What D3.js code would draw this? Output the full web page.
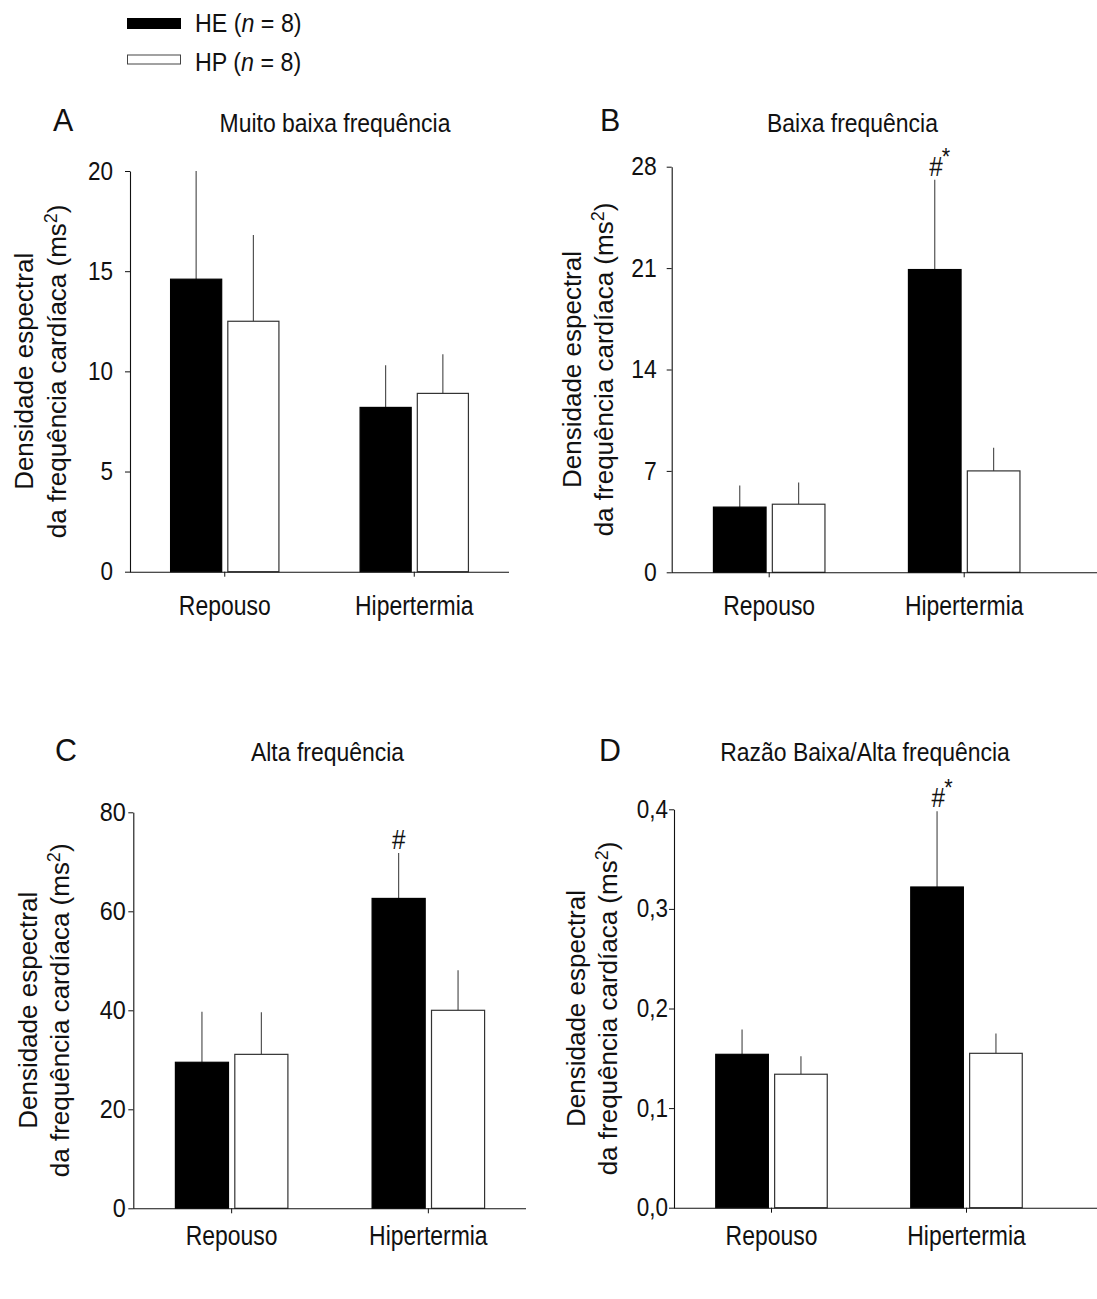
<!DOCTYPE html>
<html>
<head>
<meta charset="utf-8">
<script src="https://cdn.jsdelivr.net/npm/d3@7"></script>
<style>
  html, body { margin: 0; padding: 0; background: #fff; }
  svg { display: block; font-family: "Liberation Sans", Arial, sans-serif; }
</style>
</head>
<body>
<svg id="chart" width="1097" height="1299"></svg>
<script>
// Grupos e condições
const categories = ["Repouso", "Hipertermia"];
const series = ["HE", "HP"];
const seriesN = [8, 8];

// A — Muito baixa frequência (média e erro-padrão)
const vlfHE = [14.6, 8.2];
const vlfHEerr = [5.4, 2.1];
const vlfHP = [12.5, 8.9];
const vlfHPerr = [4.3, 1.95];
const vlfTicks = [0, 5, 10, 15, 20];

// B — Baixa frequência
const lfHE = [4.5, 20.9];
const lfHEerr = [1.5, 6.2];
const lfHP = [4.7, 7.0];
const lfHPerr = [1.5, 1.6];
const lfTicks = [0, 7, 14, 21, 28];
const lfMarks = ["", "#*"];

// C — Alta frequência
const hfHE = [29.5, 62.6];
const hfHEerr = [10.2, 9.2];
const hfHP = [31.1, 40.0];
const hfHPerr = [8.5, 8.1];
const hfTicks = [0, 20, 40, 60, 80];
const hfMarks = ["", "#"];

// D — Razão baixa/alta frequência
const ratioHE = [0.154, 0.322];
const ratioHEerr = [0.025, 0.076];
const ratioHP = [0.134, 0.155];
const ratioHPerr = [0.018, 0.020];
const ratioTicks = [0, 0.1, 0.2, 0.3, 0.4];
const ratioMarks = ["", "#*"];

const titles = ["Muito baixa frequência", "Baixa frequência", "Alta frequência", "Razão Baixa/Alta frequência"];
const letters = ["A", "B", "C", "D"];
const yLabelLines = ["Densidade espectral", "da frequência cardíaca (ms"];

const fills = { HE: "#000", HP: "#fff" };
const strokes = { HE: "#000", HP: "#333" };

const svg = d3.select("#chart");

// condensed text helper
function ctext(parent, x, y, str, size, sx, anchor) {
  const g = parent.append("g").attr("transform", `translate(${x},${y})`);
  const t = g.append("text")
    .attr("transform", `scale(${sx},1)`)
    .attr("text-anchor", anchor || "middle")
    .attr("font-size", size)
    .attr("fill", "#111")
    .text(str);
  return t;
}

// Legend
const legend = svg.append("g");
series.forEach((s, i) => {
  const yy = [18.5, 55][i];
  legend.append("rect")
    .attr("x", 127.5).attr("y", yy)
    .attr("width", 53).attr("height", i === 0 ? 10 : 9)
    .attr("fill", fills[s]).attr("stroke", i === 0 ? "#000" : "#444").attr("stroke-width", 1);
  const g = legend.append("g").attr("transform", `translate(195,${[31.5, 70.5][i]})`);
  const t = g.append("text").attr("transform", "scale(0.93,1)").attr("font-size", 25).attr("fill", "#111");
  t.append("tspan").text(`${s} (`);
  t.append("tspan").attr("font-style", "italic").text("n");
  t.append("tspan").text(` = ${seriesN[i]})`);
});

const panels = [
  { he: vlfHE, heErr: vlfHEerr, hp: vlfHP, hpErr: vlfHPerr, ticks: vlfTicks, marks: ["", ""],
    fmt: d3.format("d"), x0: 130, axisEnd: 509, step: 189.5, yTop: 171, yBot: 571.7,
    tickPad: 17, tickSize: 25, lab1: -97, lab2: -64, title: [335, 131.5], letter: [53, 131], catY: 615 },
  { he: lfHE, heErr: lfHEerr, hp: lfHP, hpErr: lfHPerr, ticks: lfTicks, marks: lfMarks,
    fmt: d3.format("d"), x0: 671.7, axisEnd: 1100, step: 195, yTop: 166.7, yBot: 572.3,
    tickPad: 15, tickSize: 25.5, lab1: -91, lab2: -59, title: [852.5, 131.5], letter: [600, 131], catY: 615 },
  { he: hfHE, heErr: hfHEerr, hp: hfHP, hpErr: hfHPerr, ticks: hfTicks, marks: hfMarks,
    fmt: d3.format("d"), x0: 133.3, axisEnd: 526, step: 196.7, yTop: 812.3, yBot: 1208.3,
    tickPad: 7.5, tickSize: 26, lab1: -96, lab2: -64, title: [327.5, 760.5], letter: [55, 760.5], catY: 1245 },
  { he: ratioHE, heErr: ratioHEerr, hp: ratioHP, hpErr: ratioHPerr, ticks: ratioTicks, marks: ratioMarks,
    fmt: v => d3.format(".1f")(v).replace(".", ","), x0: 674, axisEnd: 1100, step: 195, yTop: 809.3, yBot: 1207.7,
    tickPad: 6, tickSize: 25, lab1: -89, lab2: -57, title: [865, 760.5], letter: [599, 760.5], catY: 1245 }
];

panels.forEach((p, pi) => {
  const g = svg.append("g");
  const y = d3.scaleLinear()
    .domain([0, p.ticks[p.ticks.length - 1]])
    .range([p.yBot, p.yTop]);
  const x0 = d3.scaleBand().domain(categories).range([p.x0, p.x0 + 2 * p.step]);
  const w = 0.275 * p.step, gap = 0.027 * p.step;
  const x1 = d3.scaleBand().domain(series)
    .range([-(w + gap / 2), w + gap / 2]).paddingInner(gap / (w + gap));

  const rows = [];
  categories.forEach((c, ci) => {
    rows.push({ cat: c, s: "HE", v: p.he[ci], e: p.heErr[ci], mark: p.marks[ci] });
    rows.push({ cat: c, s: "HP", v: p.hp[ci], e: p.hpErr[ci], mark: "" });
  });
  const cx = d => x0(d.cat) + x0.bandwidth() / 2 + x1(d.s);

  // error bars (upper only)
  g.selectAll("line.err").data(rows).join("line")
    .attr("class", "err")
    .attr("x1", d => cx(d) + x1.bandwidth() / 2)
    .attr("x2", d => cx(d) + x1.bandwidth() / 2)
    .attr("y1", d => y(d.v))
    .attr("y2", d => y(d.v + d.e))
    .attr("stroke", "#444").attr("stroke-width", 1.1);

  // bars
  g.selectAll("rect.bar").data(rows).join("rect")
    .attr("class", "bar")
    .attr("x", d => cx(d) + 0.5)
    .attr("y", d => y(d.v))
    .attr("width", x1.bandwidth() - 1)
    .attr("height", d => y(0) - y(d.v))
    .attr("fill", d => fills[d.s])
    .attr("stroke", d => strokes[d.s])
    .attr("stroke-width", 1.2);

  // significance marks
  rows.filter(d => d.mark).forEach(d => {
    const xx = cx(d) + x1.bandwidth() / 2;
    const yy = y(d.v + d.e) - 4;
    const hasStar = d.mark.includes("*");
    const gg = g.append("g").attr("transform", `translate(${xx + (hasStar ? 5 : 0)},${yy}) scale(0.9,1)`);
    const t = gg.append("text").attr("font-size", 27).attr("fill", "#111").attr("text-anchor", "middle");
    t.append("tspan").text("#");
    if (hasStar) {
      t.append("tspan").attr("font-size", 24).attr("dy", -11).attr("dx", -1).text("*");
    }
  });

  // y axis
  const ya = g.append("g").attr("transform", `translate(${p.x0},0)`)
    .call(d3.axisLeft(y).tickValues(p.ticks).tickFormat(p.fmt).tickSize(5).tickSizeOuter(0));
  ya.select(".domain").attr("stroke", "#111").attr("stroke-width", 1.1);
  ya.selectAll(".tick line").attr("stroke", "#111");
  ya.selectAll(".tick text")
    .attr("x", 0)
    .attr("transform", `translate(${-p.tickPad},0) scale(0.9,1)`)
    .attr("font-size", p.tickSize)
    .attr("font-family", "Liberation Sans, Arial, sans-serif")
    .attr("fill", "#111");

  // x axis
  const xa = g.append("g").attr("transform", `translate(0,${p.yBot})`)
    .call(d3.axisBottom(x0).tickSize(5).tickSizeOuter(0).tickFormat(""));
  xa.select(".domain").attr("d", `M${p.x0},0.5H${p.axisEnd}`)
    .attr("stroke", "#111").attr("stroke-width", 1.1);
  xa.selectAll(".tick line").attr("stroke", "#111");
  categories.forEach(c => {
    ctext(g, x0(c) + x0.bandwidth() / 2, p.catY, c, 27, 0.85);
  });

  // y axis title (two lines)
  const mid = (p.yTop + p.yBot) / 2;
  g.append("text")
    .attr("transform", `translate(${p.x0 + p.lab1},${mid}) rotate(-90)`)
    .attr("text-anchor", "middle").attr("font-size", 26).attr("fill", "#111")
    .text(yLabelLines[0]);
  const l2 = g.append("text")
    .attr("transform", `translate(${p.x0 + p.lab2},${mid}) rotate(-90)`)
    .attr("text-anchor", "middle").attr("font-size", 26).attr("fill", "#111");
  l2.append("tspan").text(yLabelLines[1]);
  l2.append("tspan").attr("font-size", 18).attr("dy", -9).text("2");
  l2.append("tspan").attr("dy", 9).text(")");

  // panel title and letter
  ctext(g, p.title[0], p.title[1], titles[pi], 25.5, 0.9);
  ctext(svg, p.letter[0], p.letter[1], letters[pi], 32, 0.95, "start");
});
</script>
</body>
</html>
